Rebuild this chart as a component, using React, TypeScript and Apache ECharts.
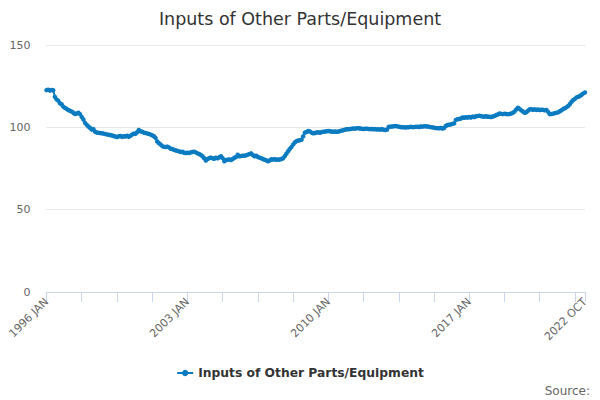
import React, { useEffect, useRef } from "react";
import * as echarts from "echarts";

const TITLE = "Inputs of Other Parts/Equipment";
const SERIES_NAME = "Inputs of Other Parts/Equipment";
const SOURCE_TEXT = "Source:";
const MONTHS = ["JAN", "FEB", "MAR", "APR", "MAY", "JUN", "JUL", "AUG", "SEP", "OCT", "NOV", "DEC"];
const FIRST_YEAR = 1996;
const LAST_YEAR = 2022;
const LAST_MONTH_COUNT = 10; // 2022 JAN..OCT
const Y_TICKS = [0, 50, 100, 150];

const V1996 = [122.6, 122.8, 122.3, 122.7, 122.5, 118.5, 117.0, 116.2, 114.6, 114.0, 112.6, 111.8];
const V1997 = [111.2, 110.5, 110.0, 109.6, 108.9, 108.1, 108.4, 108.9, 108.0, 106.3, 104.8, 102.7];
const V1998 = [101.5, 100.5, 99.6, 98.6, 98.9, 97.3, 96.8, 96.7, 96.5, 96.4, 96.2, 95.9];
const V1999 = [95.7, 95.5, 95.3, 95.0, 94.7, 94.4, 94.1, 94.5, 94.7, 94.2, 94.6, 94.4];
const V2000 = [94.9, 94.3, 94.8, 95.6, 96.2, 96.0, 97.0, 98.4, 97.6, 97.3, 96.8, 96.5];
const V2001 = [96.3, 96.0, 95.6, 95.2, 94.6, 93.6, 91.4, 90.4, 89.6, 88.6, 88.2, 88.0];
const V2002 = [88.3, 87.8, 87.0, 86.8, 86.3, 86.0, 85.7, 85.4, 85.0, 85.2, 84.6, 84.4];
const V2003 = [84.6, 84.4, 84.8, 85.0, 85.2, 84.8, 84.2, 83.8, 83.2, 82.4, 81.2, 79.9];
const V2004 = [80.8, 81.3, 81.6, 81.2, 80.9, 81.5, 81.2, 81.8, 82.4, 81.3, 79.4, 80.2];
const V2005 = [80.3, 80.5, 80.2, 80.8, 81.5, 82.0, 83.4, 82.4, 82.6, 82.8, 82.7, 83.0];
const V2006 = [83.4, 83.8, 84.2, 83.2, 82.4, 82.8, 82.0, 81.6, 81.2, 80.8, 80.3, 80.0];
const V2007 = [79.4, 79.9, 80.6, 80.4, 80.7, 80.3, 80.5, 80.4, 80.8, 81.2, 82.5, 84.0];
const V2008 = [85.5, 86.8, 88.0, 89.5, 90.8, 91.6, 92.0, 92.1, 92.5, 94.5, 96.8, 97.2];
const V2009 = [97.8, 97.5, 96.8, 96.4, 96.6, 96.9, 97.0, 96.7, 97.1, 97.3, 97.4, 97.6];
const V2010 = [97.8, 97.6, 97.4, 97.3, 97.5, 97.3, 97.4, 97.8, 98.0, 98.3, 98.6, 98.8];
const V2011 = [98.8, 99.0, 99.2, 99.3, 99.2, 99.5, 99.4, 99.3, 99.1, 99.0, 99.2, 99.1];
const V2012 = [99.0, 98.9, 99.0, 98.8, 98.9, 98.7, 98.8, 98.6, 98.9, 98.5, 98.4, 98.6];
const V2013 = [100.3, 100.4, 100.5, 100.6, 100.8, 100.6, 100.4, 100.2, 100.0, 100.1, 99.9, 100.1];
const V2014 = [100.0, 100.3, 100.2, 100.1, 100.3, 100.4, 100.2, 100.5, 100.4, 100.6, 100.7, 100.5];
const V2015 = [100.4, 100.1, 100.0, 99.8, 99.6, 99.5, 99.4, 99.6, 99.3, 99.6, 100.8, 101.4];
const V2016 = [101.6, 101.8, 102.1, 102.4, 104.5, 104.9, 105.1, 105.4, 106.0, 105.8, 106.1, 105.9];
const V2017 = [106.3, 106.0, 106.5, 106.2, 106.7, 106.9, 107.0, 106.8, 106.6, 106.5, 106.7, 106.4];
const V2018 = [106.4, 106.3, 106.6, 106.9, 107.4, 107.8, 108.4, 108.2, 108.0, 108.3, 108.1, 108.0];
const V2019 = [108.1, 108.4, 108.8, 109.6, 110.8, 111.9, 111.2, 110.3, 109.6, 108.9, 109.2, 110.1];
const V2020 = [110.9, 111.0, 110.7, 110.9, 110.6, 110.8, 110.5, 110.7, 110.6, 110.4, 110.5, 109.4];
const V2021 = [108.0, 108.1, 108.3, 108.6, 108.9, 109.1, 109.8, 110.4, 111.2, 111.6, 112.3, 113.0];
const V2022 = [114.2, 115.5, 116.6, 117.3, 118.2, 118.6, 119.0, 119.8, 120.6, 121.2];

const VALUES: number[] = [
  ...V1996, ...V1997, ...V1998, ...V1999, ...V2000, ...V2001, ...V2002, ...V2003, ...V2004,
  ...V2005, ...V2006, ...V2007, ...V2008, ...V2009, ...V2010, ...V2011, ...V2012, ...V2013,
  ...V2014, ...V2015, ...V2016, ...V2017, ...V2018, ...V2019, ...V2020, ...V2021, ...V2022,
];

const CATEGORIES: string[] = [];
for (let y = FIRST_YEAR; y <= LAST_YEAR; y++) {
  const n = y === LAST_YEAR ? LAST_MONTH_COUNT : 12;
  for (let m = 0; m < n; m++) CATEGORIES.push(`${y} ${MONTHS[m]}`);
}

const FONT = "DejaVu Sans, Verdana, sans-serif";
const COLOR = "#0b7bc1";

export default function App() {
  const ref = useRef<HTMLDivElement>(null);
  useEffect(() => {
    if (!ref.current) return;
    const chart = echarts.init(ref.current, undefined, { renderer: "svg" });
    const last = CATEGORIES.length - 1;
    chart.setOption({
      animation: false,
      backgroundColor: "#ffffff",
      textStyle: { fontFamily: FONT },
      title: {
        text: TITLE,
        left: "center",
        top: 5,
        textStyle: { fontFamily: FONT, fontSize: 17.5, fontWeight: "normal", color: "#333333" },
      },
      legend: {
        bottom: 16,
        left: "center",
        itemWidth: 16,
        itemHeight: 8,
        itemGap: 10,
        textStyle: { fontFamily: FONT, fontSize: 12.3, fontWeight: "bold", color: "#333333" },
        data: [SERIES_NAME],
      },
      graphic: [
        {
          type: "text",
          right: 10,
          bottom: 3,
          style: { text: SOURCE_TEXT, fontFamily: FONT, fontSize: 12, fill: "#666666" },
        },
      ],
      grid: { left: 46.5, right: 15, top: 45, bottom: 108, containLabel: false },
      xAxis: {
        type: "category",
        data: CATEGORIES,
        boundaryGap: false,
        axisLine: { lineStyle: { color: "#ccd6eb", width: 1 } },
        axisTick: {
          show: true,
          length: 10,
          lineStyle: { color: "#ccd6eb" },
          interval: (i: number) => i % 21 === 0 || i === last,
        },
        axisLabel: {
          rotate: 45,
          color: "#666666",
          fontFamily: FONT,
          fontSize: 11,
          margin: 8,
          interval: (i: number) => i % 84 === 0 || i === last,
        },
        splitLine: { show: false },
      },
      yAxis: {
        type: "value",
        min: Y_TICKS[0],
        max: Y_TICKS[Y_TICKS.length - 1],
        interval: 50,
        axisLine: { show: false },
        axisTick: { show: false },
        axisLabel: { color: "#666666", fontFamily: FONT, fontSize: 11, margin: 16 },
        splitLine: { lineStyle: { color: "#e6e6e6", width: 1 } },
      },
      series: [
        {
          name: SERIES_NAME,
          type: "line",
          data: VALUES,
          color: COLOR,
          lineStyle: { width: 2, color: COLOR },
          itemStyle: { color: COLOR },
          symbol: "circle",
          symbolSize: 4.5,
          showSymbol: true,
          showAllSymbol: true,
        },
      ],
    });
    return () => chart.dispose();
  }, []);
  return (
    <div
      ref={ref}
      style={{ position: "fixed", left: 0, top: 0, width: 600, height: 400 }}
    />
  );
}
